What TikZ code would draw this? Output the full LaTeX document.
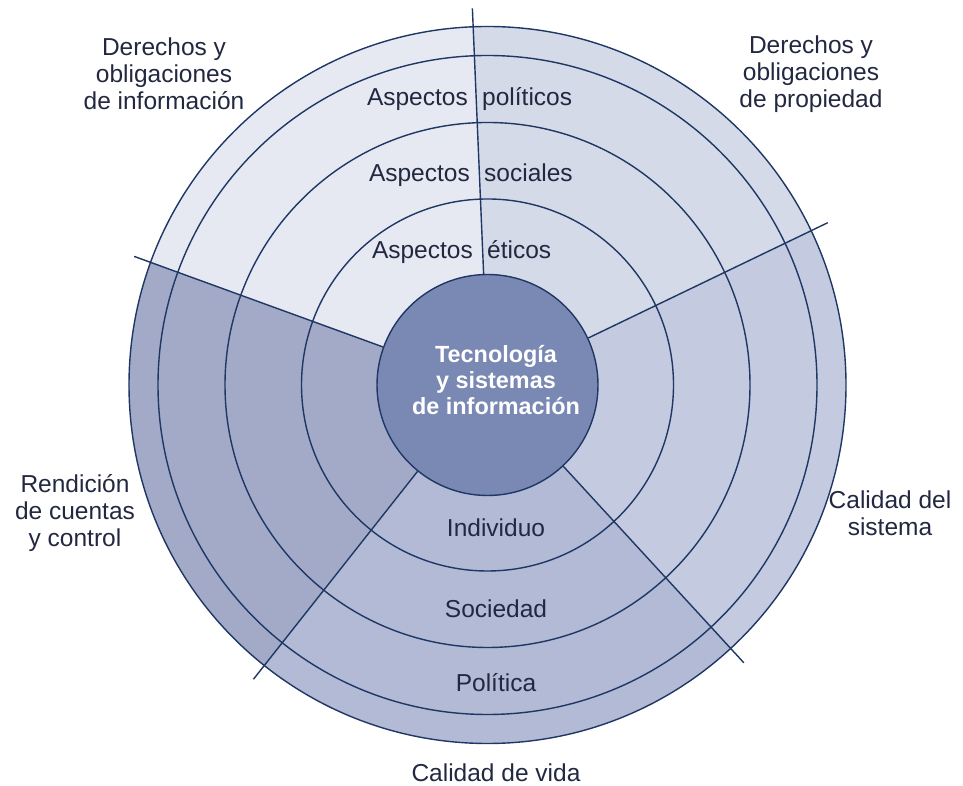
\documentclass[tikz,border=0pt]{standalone}
\usepackage{fontspec}
\setmainfont{Liberation Sans}
\usetikzlibrary{calc}
\definecolor{lineblue}{RGB}{30,55,100}
\definecolor{secA}{RGB}{230,233,242}
\definecolor{secB}{RGB}{213,218,232}
\definecolor{secC}{RGB}{196,202,224}
\definecolor{secD}{RGB}{178,186,213}
\definecolor{secE}{RGB}{162,170,200}
\definecolor{coreC}{RGB}{122,137,180}
\definecolor{txt}{RGB}{35,40,65}
\begin{document}
\begin{tikzpicture}[x=1pt,y=1pt,
  ring/.style={draw=lineblue,line width=1.4pt},
  spoke/.style={draw=lineblue,line width=1.4pt},
  lbl/.style={text=txt,font=\fontsize{24.5}{27}\selectfont,align=center,inner sep=0pt},
  corelbl/.style={text=white,font=\fontsize{23.4}{26}\selectfont\bfseries,align=center,inner sep=0pt}]
\useasboundingbox (0,0) rectangle (963,786);
\coordinate (c) at (487.5,401);
% sectors
\fill[secA] (c) -- ($(c)+(92.3:358.5pt)$) arc[start angle=92.3,end angle=160,radius=358.5pt] -- cycle;
\fill[secB] (c) -- ($(c)+(25.5:358.5pt)$) arc[start angle=25.5,end angle=92.3,radius=358.5pt] -- cycle;
\fill[secC] (c) -- ($(c)+(-47.3:358.5pt)$) arc[start angle=-47.3,end angle=25.5,radius=358.5pt] -- cycle;
\fill[secD] (c) -- ($(c)+(231.5:358.5pt)$) arc[start angle=231.5,end angle=312.7,radius=358.5pt] -- cycle;
\fill[secE] (c) -- ($(c)+(160:358.5pt)$) arc[start angle=160,end angle=231.5,radius=358.5pt] -- cycle;
% rings
\draw[ring] (c) circle[radius=358.5pt];
\draw[ring] (c) circle[radius=329.5pt];
\draw[ring] (c) circle[radius=262.5pt];
\draw[ring] (c) circle[radius=186pt];
% core
\node[circle,fill=coreC,draw=lineblue,line width=1.4pt,minimum size=221pt,inner sep=0pt] (core) at (c) {};
% spokes
\coordinate (e1) at ($(c)+(92.3:377pt)$);
\coordinate (e2) at ($(c)+(160:376pt)$);
\coordinate (e3) at ($(c)+(25.5:377pt)$);
\coordinate (e4) at ($(c)+(231.5:376pt)$);
\coordinate (e5) at ($(c)+(-47.3:378pt)$);
\draw[spoke] (core.92.3) -- (e1);
\draw[spoke] (core.160) -- (e2);
\draw[spoke] (core.25.5) -- (e3);
\draw[spoke] (core.231.5) -- (e4);
\draw[spoke] (core.-47.3) -- (e5);
% core text
\node[corelbl] (coretxt) at (496,406) {Tecnología\\y sistemas\\de información};
% aspectos
\node[lbl,anchor=base east] (asp1) at (468,680) {Aspectos};
\node[lbl,anchor=base west] (pol1) at (482,680) {políticos};
\node[lbl,anchor=base east] (asp2) at (470,604) {Aspectos};
\node[lbl,anchor=base west] (soc1) at (484,604) {sociales};
\node[lbl,anchor=base east] (asp3) at (473,527) {Aspectos};
\node[lbl,anchor=base west] (eti1) at (487,527) {éticos};
% lower labels
\node[lbl] (ind) at (496,258) {Individuo};
\node[lbl] (soc) at (496,177) {Sociedad};
\node[lbl] (polt) at (496,103) {Política};
\node[lbl] (cdv) at (496,13) {Calidad de vida};
% corner labels
\node[lbl] (dinfo) at (164,712) {Derechos y\\obligaciones\\de información};
\node[lbl] (dprop) at (811,712) {Derechos y\\obligaciones\\de propiedad};
\node[lbl] (rend) at (75,273) {Rendición\\de cuentas\\y control};
\node[lbl] (csis) at (890,272.5) {Calidad del\\sistema};
\end{tikzpicture}
\end{document}
